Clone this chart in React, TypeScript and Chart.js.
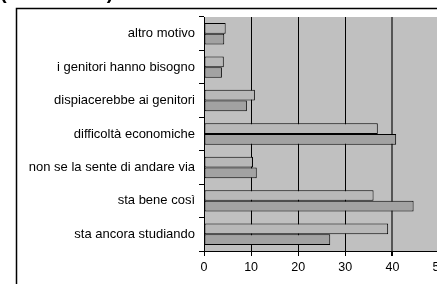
import React, { useEffect, useRef } from "react";
import { Chart, registerables } from "chart.js";

Chart.register(...registerables);

const categories = [
  "altro motivo",
  "i genitori hanno bisogno",
  "dispiacerebbe ai genitori",
  "difficoltà economiche",
  "non se la sente di andare via",
  "sta bene così",
  "sta ancora studiando",
];
const seriesA = [4.6, 4.2, 10.8, 36.9, 10.4, 36.0, 39.1];
const seriesB = [4.3, 3.8, 9.1, 40.8, 11.2, 44.5, 26.8];
const xTicks = [0, 10, 20, 30, 40, 50];
const titleText = "(valori in %)";

const FONT = "'Liberation Sans', Arial, sans-serif";

export default function App() {
  const ref = useRef<HTMLCanvasElement | null>(null);
  useEffect(() => {
    const canvas = ref.current;
    if (!canvas) return;
    const framePlugin = {
      id: "frame",
      beforeDraw(chart: any) {
        const { ctx, chartArea } = chart;
        ctx.save();
        ctx.fillStyle = "#ffffff";
        ctx.fillRect(0, 0, chart.width, chart.height);
        ctx.strokeStyle = "#000";
        ctx.lineWidth = 1.5;
        ctx.strokeRect(16.5, 8.5, 1000, 1000);
        ctx.fillStyle = "#c0c0c0";
        ctx.fillRect(chartArea.left, chartArea.top, chartArea.right - chartArea.left, chartArea.bottom - chartArea.top);
        ctx.fillStyle = "#000";
        ctx.font = `bold 20px ${FONT}`;
        ctx.textBaseline = "alphabetic";
        ctx.textAlign = "left";
        ctx.fillText(titleText, 0, -1.5);
        ctx.restore();
      },
    };
    const chart = new Chart(canvas, {
      type: "bar",
      data: {
        labels: categories,
        datasets: [
          {
            data: seriesA,
            backgroundColor: "#b8b8b8",
            borderColor: "#000",
            borderWidth: 1,
            borderSkipped: false,
          },
          {
            data: seriesB,
            backgroundColor: "#a2a2a2",
            borderColor: "#000",
            borderWidth: 1,
            borderSkipped: false,
          },
        ],
      },
      options: {
        indexAxis: "y",
        responsive: false,
        animation: false,
        devicePixelRatio: 1,
        layout: { padding: { left: 0, top: 17, right: 30.5, bottom: 0 } },
        datasets: { bar: { categoryPercentage: 0.64, barPercentage: 1 } },
        plugins: { legend: { display: false }, tooltip: { enabled: false }, title: { display: false } },
        scales: {
          x: {
            min: 0,
            max: 50,
            afterFit(scale: any) {
              scale.height = 33;
            },
            afterBuildTicks(scale: any) {
              scale.ticks = xTicks.map((v) => ({ value: v }));
            },
            ticks: { color: "#000", font: { family: FONT, size: 12.5 }, padding: 4 },
            border: { display: true, color: "#000", width: 1 },
            grid: {
              drawOnChartArea: true,
              drawTicks: true,
              tickLength: 5,
              color: (c: any) => (c.tick && c.tick.value === 40 ? "#555555" : "#000"),
              lineWidth: (c: any) => (c.tick && (c.tick.value === 40) ? 2 : 1),
              tickColor: "#000",
            },
          },
          y: {
            afterFit(scale: any) {
              scale.width = 204;
            },
            ticks: { color: "#000", font: { family: FONT, size: 13 }, padding: 4 },
            border: { display: true, color: "#000", width: 1 },
            grid: {
              offset: true,
              drawOnChartArea: false,
              drawTicks: true,
              tickLength: 5,
              color: "#000",
            },
          },
        },
      },
      plugins: [framePlugin],
    } as any);
    return () => chart.destroy();
  }, []);
  return (
    <div style={{ position: "fixed", left: 0, top: 0, width: 437, height: 284, overflow: "hidden", background: "#fff" }}>
      <canvas ref={ref} width={470} height={284} style={{ display: "block" }} />
    </div>
  );
}
